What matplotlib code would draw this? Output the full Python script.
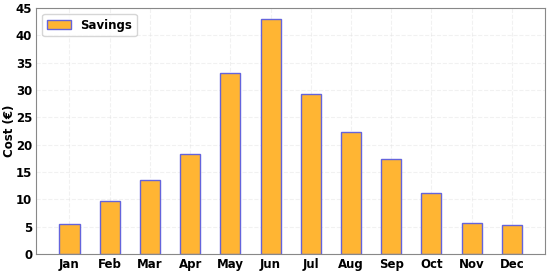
import matplotlib
matplotlib.use("Agg")
import matplotlib.pyplot as plt

# monthly savings data
months = ["Jan", "Feb", "Mar", "Apr", "May", "Jun", "Jul", "Aug", "Sep", "Oct", "Nov", "Dec"]
savings = [5.4, 9.6, 13.5, 18.3, 33.1, 42.9, 29.3, 22.3, 17.4, 11.2, 5.7, 5.2]
yticks = [0, 5, 10, 15, 20, 25, 30, 35, 40, 45]

fig, ax = plt.subplots(figsize=(5.5, 2.73), dpi=100)
x = range(len(months))
ax.bar(x, savings, width=0.5, color="#FFB533", edgecolor="#6464dc",
       linewidth=1.0, label="Savings", zorder=3)

ax.set_ylim(0, 45)
ax.set_yticks(yticks)
ax.set_xticks(list(x))
ax.set_xticklabels(months, fontweight="bold", fontsize=8.5)
ax.set_yticklabels([str(v) for v in yticks], fontweight="bold", fontsize=8.5)
ax.tick_params(length=0, pad=3)
ax.set_ylabel("Cost (€)", fontweight="bold", fontsize=8.5, labelpad=0)
ax.grid(True, linestyle="--", alpha=0.4, color="#dddddd", zorder=0)
for s in ax.spines.values():
    s.set_color("#888888")
leg = ax.legend(loc="upper left", prop={"weight": "bold", "size": 8.5})

fig.subplots_adjust(left=0.066, right=0.991, top=0.971, bottom=0.07)
fig.savefig("out.png", dpi=100)
